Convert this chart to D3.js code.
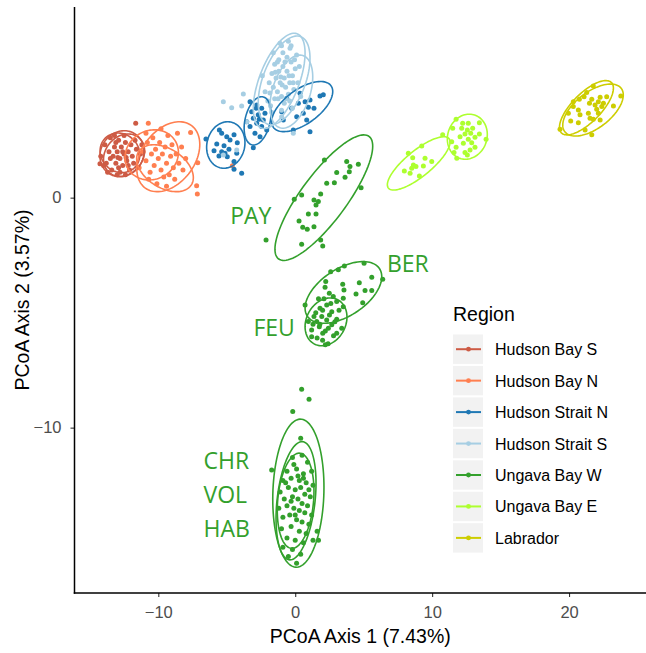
<!DOCTYPE html>
<html>
<head>
<meta charset="utf-8">
<script src="https://cdn.jsdelivr.net/npm/d3@7"></script>
<style>
  html, body { margin: 0; padding: 0; background: #fff; }
  svg { display: block; }
</style>
</head>
<body>
<svg id="chart" width="646" height="653"></svg>
<script>
// ---- Data (PCoA coordinates) ----
const regions = ["Hudson Bay S", "Hudson Bay N", "Hudson Strait N", "Hudson Strait S",
                 "Ungava Bay W", "Ungava Bay E", "Labrador"];
const colors = ["#cd5b45", "#ff7f50", "#1f78b4", "#a6cee3", "#33a02c", "#adff2f", "#cdcd00"];

const xTicks = [-10, 0, 10, 20];
const yTicks = [0, -10];

const hudsonBayS = [[-14.2,1.8],[-13.9,2.3],[-13.8,1.5],[-13.6,2.0],[-13.5,2.6],[-13.4,1.2],[-13.3,1.8],[-13.2,2.2],[-13.1,1.5],[-13.0,2.0],[-12.9,2.5],[-12.8,1.1],[-12.8,1.7],[-12.7,2.2],[-12.6,1.4],[-12.5,1.9],[-12.4,2.4],[-12.3,1.6],[-12.2,2.0],[-12.1,1.2],[-12.0,2.3],[-11.9,1.8],[-11.8,1.5],[-11.6,2.1],[-11.5,1.3],[-11.3,1.9],[-13.7,1.1],[-13.0,1.0],[-12.4,1.0],[-14.0,1.4],[-13.2,2.7],[-12.5,2.7],[-11.7,2.5],[-13.5,1.7],[-12.9,1.3],[-12.2,1.4],[-11.2,2.3],[-12.6,2.0],[-13.1,2.4],[-11.65,3.23],[-14.26,1.47],[-12.95,1.75],[-12.35,1.75]];
const hudsonBayN = [[-11.4,1.3],[-11.1,2.0],[-10.9,1.6],[-10.8,2.4],[-10.6,1.1],[-10.5,1.9],[-10.4,2.6],[-10.3,1.4],[-10.2,2.1],[-10.0,1.7],[-9.9,2.4],[-9.8,1.2],[-9.7,1.9],[-9.6,0.9],[-9.5,2.2],[-9.4,1.5],[-9.3,2.7],[-9.2,1.0],[-9.1,1.8],[-9.0,2.3],[-8.9,1.3],[-8.8,0.8],[-8.7,1.9],[-8.5,1.5],[-8.3,2.2],[-8.2,1.2],[-10.7,0.8],[-10.1,0.6],[-9.4,0.5],[-8.6,2.8],[-7.64,2.83],[-7.12,1.52],[-7.2,0.52],[-7.15,0.16],[-10.73,3.23],[-4.59,1.39],[-9.8,3.0],[-10.9,2.8],[-8.0,1.7]];
const hudsonStraitN = [[-5.54,2.94],[-5.0,2.65],[-4.47,2.73],[-5.73,2.33],[-5.2,2.26],[-4.76,2.51],[-4.23,2.39],[-5.93,2.04],[-5.37,2.0],[-4.84,2.1],[-4.27,1.93],[-5.57,1.81],[-4.96,1.78],[-4.47,1.57],[-6.52,2.55],[-4.47,1.23],[-3.91,1.06],[-5.37,2.8],[-5.13,1.93],
  [-3.3,4.17],[-2.81,4.03],[-2.45,3.89],[-3.18,3.74],[-2.7,3.6],[-3.06,3.45],[-2.33,3.38],[-2.81,3.23],[-2.45,3.09],[-3.3,3.09],[-2.08,2.94],[-2.94,2.8],[-2.57,2.65],[-3.06,2.17],[-3.54,3.3],[-2.21,3.67],[-2.63,3.41],[-2.86,3.89],
  [-0.62,4.32],[-0.26,3.89],[0.23,4.1],[0.72,4.17],[0.96,3.93],[1.37,3.89],[1.81,4.42],[2.05,4.47],[0.59,3.67],[0.11,3.52],[-0.99,3.74],[-0.87,3.38],[0.84,3.38],[-0.14,2.94],[1.08,2.87],[0.35,4.54],[1.08,4.25]];
const hudsonStraitS = [[-1.9,5.0],[-1.7,5.4],[-1.6,4.8],[-1.5,5.8],[-1.4,5.2],[-1.3,4.6],[-1.2,6.0],[-1.2,5.5],[-1.1,5.0],[-1.0,4.4],[-0.9,5.7],[-0.9,6.3],[-0.8,5.2],[-0.7,4.8],[-0.6,5.5],[-0.6,6.1],[-0.5,4.5],[-0.4,5.0],[-0.3,5.9],[-0.3,6.6],[-0.2,5.3],[-0.1,4.7],[0.0,5.6],[0.1,6.2],[0.2,5.0],[0.3,5.7],[-2.2,4.6],[-2.0,4.2],[-1.8,4.0],[-1.5,4.3],[-0.8,4.1],[-1.0,6.6],[-1.6,6.3],[-0.5,6.8],[-1.3,5.9],[-0.4,4.2],[-2.4,5.3],[0.4,4.4],[-1.7,3.7],[-0.2,3.9],[-1.0,3.8],
  [-1.45,5.45],[-1.05,5.25],[-0.75,5.9],[-0.45,5.3],[-0.95,4.9],[-1.25,4.3],[-0.15,5.0],[-0.65,4.3],[-1.85,4.55],[-0.05,6.0],
  [-5.25,4.17],[-4.64,3.91],[-3.79,4.51],[-3.91,3.99],[-3.54,3.3],[-4.27,2.07],[-5.25,1.86],[-0.99,3.52],[-0.14,2.8],[-1.11,6.71],[-0.38,6.5]];
const ungavaBayW = [
  // PAY
  [2.13,1.64],[3.76,1.57],[4.0,1.35],[4.61,1.45],[3.95,1.13],[3.64,0.89],[3.03,1.09],[2.86,0.65],[2.3,0.63],[4.81,0.43],[1.86,0.16],[0.47,0.12],[-0.07,-0.07],[1.37,-0.1],[1.69,-0.17],[1.52,-0.32],[0.96,-0.71],[1.52,-0.71],[0.28,-1.01],[0.55,-1.29],[0.88,-1.37],[1.37,-1.26],[1.86,-1.84],[-2.13,-1.84],[0.47,-2.03],[2.01,-2.1],
  // BER / FEU
  [5.03,-2.85],[3.59,-2.97],[3.15,-3.14],[2.59,-3.22],[5.59,-3.46],[6.39,-3.55],[2.23,-3.65],[3.47,-3.77],[4.68,-3.70],[2.18,-3.9],[5.1,-4.04],[5.59,-4.04],[3.56,-4.01],[4.44,-4.19],[2.49,-4.16],[2.78,-4.3],[4.93,-4.57],[3.51,-4.37],[3.03,-4.52],[0.72,-4.67],[2.3,-4.67],[1.81,-4.81],[3.51,-4.74],[2.67,-4.96],[1.94,-5.17],[1.37,-5.17],[1.57,-5.39],[2.3,-5.32],[3.03,-5.29],[0.96,-5.39],[1.76,-5.61],[2.42,-5.68],[1.2,-5.75],[2.01,-5.9],[3.03,-5.9],[2.67,-5.53],[3.4,-5.68],
  [2.0,-6.2],[2.4,-6.35],[1.6,-6.1],[2.8,-6.0],[1.2,-6.05],[2.2,-6.4],[1.5,-5.0],[2.0,-4.9],[2.5,-5.1],[1.8,-5.5],[2.2,-5.8],[2.9,-5.4],[1.3,-5.5],[2.6,-4.6],[2.1,-4.4],[3.2,-4.9],[1.7,-4.4],
  // CHR / VOL / HAB
  [0.47,-8.33],[1.01,-8.77],[-0.18,-9.3],[0.4,-10.46],[-1.72,-11.84],
  [-0.2,-11.3],[0.5,-11.2],[0.9,-11.5],[1.2,-11.9],[-0.6,-11.9],[0.1,-11.8],[0.6,-12.0],[-0.9,-12.3],[-0.3,-12.2],[0.3,-12.3],[0.8,-12.4],[1.3,-12.5],[-1.1,-12.8],[-0.5,-12.6],[0.0,-12.7],[0.4,-12.6],[0.7,-12.9],[1.1,-13.0],[-0.8,-13.1],[-0.2,-13.0],[0.2,-13.1],[0.5,-13.3],[0.9,-13.4],[-1.2,-13.5],[-0.6,-13.4],[-0.1,-13.5],[0.3,-13.6],[0.7,-13.7],[1.2,-13.8],[-0.9,-13.9],[-0.4,-13.8],[0.1,-14.0],[0.5,-14.1],[1.0,-14.2],[-1.0,-14.4],[-0.3,-14.3],[0.3,-14.5],[0.8,-14.6],[-0.6,-14.8],[0.0,-14.9],[0.6,-15.0],[1.3,-14.9],[-0.9,-15.2],[-0.2,-15.3],[0.4,-15.5],[-0.5,-15.6],[0.2,-12.1],[-0.3,-13.2],[0.6,-12.2],[0.0,-13.8],[-0.7,-12.4],[1.0,-12.7],[0.1,-15.9],[-0.1,-11.6],[1.7,-14.9],[1.6,-14.5]];
const ungavaBayE = [[8.26,1.93],[9.24,2.25],[8.58,1.74],[9.48,1.71],[9.97,1.57],[8.63,1.42],[8.51,1.28],[7.97,1.16],[9.36,1.38],[8.82,1.35],[8.39,1.06],[9.07,0.94],[10.77,2.73],
  [11.75,3.41],[12.23,3.23],[12.64,3.23],[13.45,3.26],[12.16,3.02],[12.57,2.94],[12.96,3.02],[11.5,3.02],[12.4,2.77],[12.82,2.8],[13.45,2.77],[12.04,2.65],[13.13,2.63],[11.43,2.43],[12.64,2.54],[12.28,2.37],[12.89,2.39],[13.94,2.54],[11.75,2.19],[13.13,2.19],[12.77,2.07],[12.4,1.96],[11.6,1.96],[11.8,1.71],[12.57,1.86]];
const labrador = [[21.77,4.86],[21.29,4.57],[20.75,4.28],[21.1,4.39],[21.66,4.28],[22.27,4.37],[22.75,4.39],[23.78,4.42],[22.14,4.17],[22.51,4.1],[21.9,4.03],[22.39,3.96],[23.24,3.99],[20.31,3.96],[20.68,3.81],[22.02,3.84],[19.95,3.67],[20.8,3.6],[21.41,3.67],[21.53,3.45],[21.77,3.41],[20.12,3.33],[20.68,3.26],[22.27,3.38],[19.34,2.97],[21.17,2.94],[21.66,2.73],[20.31,4.17],[21.49,4.1],[22.14,3.67]];

const points = [hudsonBayS, hudsonBayN, hudsonStraitN, hudsonStraitS, ungavaBayW, ungavaBayE, labrador];

// Confidence ellipses per population: [region index, centre x, centre y, half-width x, half-height y, correlation]
const ellipses = [
  [0, -12.65, 1.91, 1.61, 1.00, 0.1],
  [0, -12.5, 1.85, 1.5, 0.92, 0.2],
  [0, -12.8, 1.95, 1.45, 0.86, -0.1],
  [1, -9.27, 1.78, 2.3, 1.52, 0.35],
  [1, -10.48, 1.86, 1.95, 1.09, 0.1],
  [1, -9.51, 1.28, 2.07, 1.02, -0.4],
  [2, -5.07, 2.29, 1.4, 1.01, 0.1],
  [2, -2.75, 3.34, 0.98, 1.05, 0.3],
  [2, 0.51, 3.96, 2.23, 1.09, 0.6],
  [3, -1.17, 5.08, 1.89, 2.07, 0.58],
  [3, -0.81, 5.1, 1.89, 1.93, 0.5],
  [3, -0.28, 4.61, 1.56, 1.59, 0.4],
  [4, 2.09, 0.0, 3.57, 2.73, 0.82],
  [4, 3.52, -4.12, 2.8, 1.34, 0.51],
  [4, 2.25, -5.40, 1.53, 1.04, 0.2],
  [4, 0.23, -12.85, 1.87, 3.22, 0.08],
  [4, 0.06, -13.18, 1.46, 2.57, 0.3],
  [4, 0.03, -13.18, 1.34, 2.07, 0.2],
  [5, 9.02, 1.49, 2.29, 1.16, 0.8],
  [5, 12.57, 2.65, 1.46, 0.98, 0.1],
  [6, 21.27, 3.91, 1.97, 1.18, 0.72],
  [6, 21.75, 3.81, 2.21, 1.13, 0.58]
];

// Population labels placed in data coordinates
const popLabels = [
  ["PAY", -4.75, -1.15],
  ["BER", 6.7, -3.25],
  ["FEU", -3.05, -6.0],
  ["CHR", -6.7, -11.8],
  ["VOL", -6.7, -13.28],
  ["HAB", -6.7, -14.76]
];

// ---- Layout ----
const svg = d3.select("#chart");
const plot = { left: 74.5, right: 646, top: 7, bottom: 593 };

const x = d3.scaleLinear().domain([-16.12, 25.62]).range([plot.left, plot.right]);
const y = d3.scaleLinear().domain([-17.19, 8.29]).range([plot.bottom, plot.top]);

const font = "'Liberation Sans', Arial, Helvetica, sans-serif";

// Points
const pts = svg.append("g");
points.forEach((arr, i) => {
  pts.selectAll(null).data(arr).enter().append("circle")
    .attr("cx", d => x(d[0]))
    .attr("cy", d => y(d[1]))
    .attr("r", 2.5)
    .attr("fill", colors[i]);
});

// Ellipses
const steps = d3.range(0, 101).map(t => t / 100 * 2 * Math.PI);
const line = d3.line().x(d => x(d[0])).y(d => y(d[1])).curve(d3.curveLinearClosed);
svg.append("g").selectAll("path").data(ellipses).enter().append("path")
  .attr("d", e => {
    const [, cx, cy, sx, sy, r] = e;
    const q = Math.sqrt(1 - r * r);
    return line(steps.map(t => [cx + sx * Math.cos(t), cy + sy * (r * Math.cos(t) + q * Math.sin(t))]));
  })
  .attr("fill", "none")
  .attr("stroke", e => colors[e[0]])
  .attr("stroke-width", 1.6);

// Population labels
svg.append("g").selectAll("text").data(popLabels).enter().append("text")
  .attr("x", d => x(d[1]))
  .attr("y", d => y(d[2]))
  .attr("fill", colors[4])
  .attr("font-family", "'Open Sans', 'Noto Sans', sans-serif")
  .attr("font-size", 23)
  .text(d => d[0]);

// Axes
const xAxis = svg.append("g").attr("transform", `translate(0,${plot.bottom})`)
  .call(d3.axisBottom(x).tickValues(xTicks).tickSize(4).tickPadding(9)
    .tickFormat(d => d < 0 ? "\u2212" + Math.abs(d) : d));
const yAxis = svg.append("g").attr("transform", `translate(${plot.left},0)`)
  .call(d3.axisLeft(y).tickValues(yTicks).tickSize(4).tickPadding(9)
    .tickFormat(d => d < 0 ? "\u2212" + Math.abs(d) : d));
[xAxis, yAxis].forEach(g => {
  g.select(".domain").remove();
  g.selectAll(".tick line").attr("stroke", "#333").attr("stroke-width", 1.1);
  g.selectAll(".tick text").attr("fill", "#4d4d4d").attr("font-size", 16.5).attr("font-family", font);
});
svg.append("line").attr("x1", plot.left).attr("x2", plot.left).attr("y1", plot.top).attr("y2", plot.bottom + 0.75)
  .attr("stroke", "#000").attr("stroke-width", 1.5);
svg.append("line").attr("x1", plot.left - 0.75).attr("x2", plot.right).attr("y1", plot.bottom).attr("y2", plot.bottom)
  .attr("stroke", "#000").attr("stroke-width", 1.5);

// Axis titles
svg.append("text").attr("x", (plot.left + plot.right) / 2).attr("y", 643)
  .attr("text-anchor", "middle").attr("font-family", font).attr("font-size", 19.5).attr("fill", "#000")
  .text("PCoA Axis 1 (7.43%)");
svg.append("text").attr("transform", `translate(29,${(plot.top + plot.bottom) / 2}) rotate(-90)`)
  .attr("text-anchor", "middle").attr("font-family", font).attr("font-size", 19.5).attr("fill", "#000")
  .text("PCoA Axis 2 (3.57%)");

// Legend
const legend = svg.append("g").attr("transform", "translate(453,0)");
legend.append("text").attr("x", 0).attr("y", 321).attr("font-family", font).attr("font-size", 19.5)
  .attr("fill", "#000").text("Region");
const rows = legend.selectAll("g.row").data(regions).enter().append("g")
  .attr("transform", (d, i) => `translate(0,${349.2 + i * 31.45})`);
rows.append("rect").attr("x", 0).attr("y", -14.7).attr("width", 30).attr("height", 29.4).attr("fill", "#f2f2f2");
rows.append("line").attr("x1", 3).attr("x2", 28).attr("y1", 0).attr("y2", 0)
  .attr("stroke", (d, i) => colors[i]).attr("stroke-width", 2);
rows.append("circle").attr("cx", 15.5).attr("cy", 0).attr("r", 2.4).attr("fill", (d, i) => colors[i]);
rows.append("text").attr("x", 42).attr("y", 6).attr("font-family", font).attr("font-size", 16)
  .attr("fill", "#000").text(d => d);
</script>
</body>
</html>
